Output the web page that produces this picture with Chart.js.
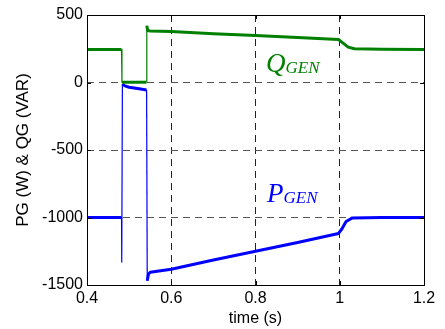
<!DOCTYPE html>
<html>
<head>
<meta charset="utf-8">
<script src="https://cdn.jsdelivr.net/npm/chart.js@4.4.0/dist/chart.umd.min.js"></script>
<style>
  html, body { margin: 0; padding: 0; background: #fff; }
  #wrap { width: 445px; height: 329px; }
</style>
</head>
<body>
<div id="wrap"><canvas id="myChart" width="445" height="329"></canvas></div>
<script>
// reactive power of the generator (VAR)
var tQ = [0.4, 0.482, 0.483, 0.541, 0.542, 0.544, 0.55, 0.6, 0.7, 0.8, 0.9, 0.997, 1.008, 1.02, 1.035, 1.1, 1.2];
var qGen = [245, 245, 2, 2, 420, 385, 382, 378, 362, 348, 333, 318, 292, 262, 250, 246, 245];

// active power of the generator (W)
var tP = [0.4, 0.482, 0.4825, 0.484, 0.49, 0.50, 0.52, 0.5415, 0.543, 0.546, 0.55, 0.6, 0.7, 0.8, 0.9, 0.997, 1.005, 1.015, 1.03, 1.1, 1.2];
var pGen = [-1000, -1000, -1330, -12, -25, -35, -45, -55, -1468, -1418, -1405, -1383, -1315, -1250, -1185, -1118, -1085, -1030, -1003, -1000, -1000];

var xTicks = [0.4, 0.6, 0.8, 1.0, 1.2];
var yTicks = [-1500, -1000, -500, 0, 500];

function pts(t, v) {
  return t.map(function (x, i) { return { x: x, y: v[i] }; });
}

// thin line on the near-vertical jumps, thick on the slow parts
function segWidth(ctx) {
  var dx = Math.abs(ctx.p1.parsed.x - ctx.p0.parsed.x);
  return dx < 0.0016 ? 1.2 : 3;
}

var frame = {
  id: 'frame',
  afterDraw: function (chart) {
    var c = chart.ctx, a = chart.chartArea;
    var xs = chart.scales.x, ys = chart.scales.y;
    c.save();
    c.strokeStyle = '#000';
    c.lineWidth = 1;
    c.strokeRect(Math.round(a.left) + 0.5, Math.round(a.top) + 0.5,
      Math.round(a.right - a.left), Math.round(a.bottom - a.top));
    // inward ticks
    c.beginPath();
    xTicks.forEach(function (v) {
      var px = Math.round(xs.getPixelForValue(v)) + 0.5;
      c.moveTo(px, a.bottom); c.lineTo(px, a.bottom - 4);
      c.moveTo(px, a.top); c.lineTo(px, a.top + 4);
    });
    yTicks.forEach(function (v) {
      var py = Math.round(ys.getPixelForValue(v)) + 0.5;
      c.moveTo(a.left, py); c.lineTo(a.left + 4, py);
      c.moveTo(a.right, py); c.lineTo(a.right - 4, py);
    });
    c.stroke();

    // curve names
    function label(main, sub, x, y, color) {
      c.fillStyle = color;
      c.textBaseline = 'alphabetic';
      c.font = 'italic 27px "Liberation Serif", "Times New Roman", serif';
      c.fillText(main, x, y);
      var w = c.measureText(main).width;
      c.font = 'italic 17px "Liberation Serif", "Times New Roman", serif';
      c.fillText(sub, x + w, y + 1);
    }
    label('Q', 'GEN', 266, 72, '#008000');
    label('P', 'GEN', 267, 202, '#0000ff');
    c.restore();
  }
};

var tickFont = { family: '"Liberation Sans", Arial, sans-serif', size: 16 };

var config = {
  type: 'line',
  data: {
    datasets: [{
      label: 'QGEN',
      data: pts(tQ, qGen),
      borderColor: '#008000',
      borderWidth: 3,
      segment: { borderWidth: segWidth }
    }, {
      label: 'PGEN',
      data: pts(tP, pGen),
      borderColor: '#0000ff',
      borderWidth: 3,
      segment: { borderWidth: segWidth }
    }]
  },
  options: {
    responsive: false,
    animation: false,
    layout: { padding: { top: 15, right: 21, left: 0, bottom: 0 } },
    elements: { point: { radius: 0 }, line: { tension: 0, borderJoinStyle: 'round' } },
    plugins: { legend: { display: false }, tooltip: { enabled: false } },
    scales: {
      x: {
        type: 'linear',
        min: 0.4, max: 1.2,
        afterBuildTicks: function (s) { s.ticks = xTicks.map(function (v) { return { value: v }; }); },
        afterFit: function (s) { s.height = 44; },
        ticks: {
          color: '#000', font: tickFont, padding: 4, maxRotation: 0,
          callback: function (v) { return String(Number(v.toFixed(2))); }
        },
        grid: {
          drawTicks: false,
          lineWidth: 1,
          color: function (ctx) {
            var v = ctx.tick ? ctx.tick.value : 0;
            return (v <= 0.41 || v >= 1.19) ? 'rgba(0,0,0,0)' : '#222';
          }
        },
        border: { display: false, dash: [7, 5] },
        title: {
          display: true, text: 'time (s)', color: '#000',
          font: { family: '"Liberation Sans", Arial, sans-serif', size: 16 },
          padding: { top: 0, bottom: 1 }
        }
      },
      y: {
        min: -1500, max: 500,
        afterBuildTicks: function (s) { s.ticks = yTicks.map(function (v) { return { value: v }; }); },
        afterFit: function (s) { s.width = 87; },
        ticks: {
          color: '#000', font: tickFont, padding: 4,
          callback: function (v) { return String(v); }
        },
        grid: {
          drawTicks: false,
          lineWidth: 1,
          color: function (ctx) {
            var v = ctx.tick ? ctx.tick.value : 0;
            return (v <= -1500 || v >= 500) ? 'rgba(0,0,0,0)' : '#555';
          }
        },
        border: { display: false, dash: [7, 5] },
        title: {
          display: true, text: 'PG (W) & QG (VAR)', color: '#000',
          font: { family: '"Liberation Sans", Arial, sans-serif', size: 17 },
          padding: { top: 13, bottom: 0 }
        }
      }
    }
  },
  plugins: [frame]
};

var myChart = new Chart(document.getElementById('myChart'), config);
</script>
</body>
</html>
